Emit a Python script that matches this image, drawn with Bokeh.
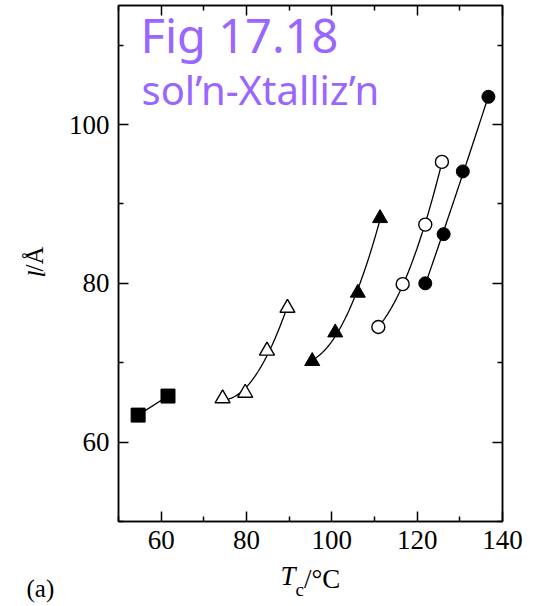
import numpy as np
from bokeh.plotting import figure
from bokeh.models import LinearAxis, FixedTicker, Label
from bokeh.embed import file_html
from bokeh.resources import INLINE

# ---- data ----
sq_x = [54.6, 61.6]
sq_y = [63.4, 65.8]
ot_x = [74.4, 79.7, 84.8, 89.6]          # open triangles
ot_y = [65.5, 66.2, 71.5, 76.9]
ft_x = [95.4, 100.8, 106.1, 111.3]       # filled triangles
ft_y = [70.2, 73.8, 78.8, 88.2]
oc_x = [110.9, 116.6, 121.9, 125.8]      # open circles
oc_y = [74.5, 79.9, 87.4, 95.3]
fc_x = [121.9, 126.2, 130.7, 136.7]      # filled circles
fc_y = [80.0, 86.2, 94.1, 103.5]

x_major = [60, 80, 100, 120, 140]
x_minor = [50, 70, 90, 110, 130]
y_major = [60, 80, 100]
y_minor = [50, 70, 90, 110]

XR = (50, 140)
YR = (50, 115)
W, H = 537, 606
ML, MR, MT, MB = 118, 35, 5, 85

p = figure(width=W, height=H, x_range=XR, y_range=YR, title=None,
           output_backend="svg", toolbar_location=None,
           min_border_left=ML, min_border_right=MR,
           min_border_top=MT, min_border_bottom=MB,
           background_fill_color="white", border_fill_color="white")
p.grid.visible = False
p.outline_line_color = "black"
p.outline_line_width = 1.5

# pixel -> data helpers for text placement
fw = W - ML - MR
fh = H - MT - MB
def dx(px):
    return XR[0] + (px - ML) / fw * (XR[1] - XR[0])
def dy(py):
    return YR[0] + (H - MB - py) / fh * (YR[1] - YR[0])

serif = "Liberation Serif"

def style(ax, labels, fs="27px"):
    ax.axis_line_width = 1.5
    ax.major_tick_in = 10
    ax.major_tick_out = 0
    ax.minor_tick_in = 5
    ax.minor_tick_out = 0
    ax.major_tick_line_width = 1.5
    ax.minor_tick_line_width = 1.5
    ax.major_label_text_font = serif
    ax.major_label_text_color = "black"
    if labels:
        ax.major_label_text_font_size = fs
        ax.major_label_standoff = 9
    else:
        ax.major_label_text_font_size = "1px"
        ax.major_label_standoff = 0

xb = p.xaxis[0]
xb.ticker = FixedTicker(ticks=x_major, minor_ticks=x_minor)
style(xb, True)
yl = p.yaxis[0]
yl.ticker = FixedTicker(ticks=y_major, minor_ticks=y_minor)
style(yl, True)

xt = LinearAxis(ticker=FixedTicker(ticks=x_major, minor_ticks=x_minor),
                major_label_overrides={t: "" for t in x_major})
style(xt, False)
p.add_layout(xt, "above")
yr = LinearAxis(ticker=FixedTicker(ticks=y_major, minor_ticks=y_minor),
                major_label_overrides={t: "" for t in y_major})
style(yr, False)
p.add_layout(yr, "right")

# axis-title pieces drawn as tick labels of bare extra axes (so they sit outside the frame)
def text_axis(side, ticks, texts, fs, standoff, italic=False, vertical=False):
    ax = LinearAxis(ticker=FixedTicker(ticks=ticks, minor_ticks=[]),
                    major_label_overrides=dict(zip(ticks, texts)))
    ax.axis_line_color = None
    ax.major_tick_line_color = None
    ax.minor_tick_line_color = None
    ax.major_tick_in = 0
    ax.major_tick_out = 0
    ax.minor_tick_in = 0
    ax.minor_tick_out = 0
    ax.major_label_text_font = serif
    ax.major_label_text_font_size = fs
    ax.major_label_text_color = "black"
    ax.major_label_standoff = standoff
    if italic:
        ax.major_label_text_font_style = "italic"
    if vertical:
        ax.major_label_orientation = "vertical"
    p.add_layout(ax, side)
    return ax

nb = "\u00a0"
# x title: T (italic), c (subscript), /°C ; then the panel tag (a)
text_axis("below", [dx(287.5)], ["T"], "27px", 9, italic=True)
text_axis("below", [dx(321.6)], ["/\u00b0C"], "27px", -30)
text_axis("below", [dx(299.2)], ["c"], "19px", -18)
text_axis("below", [XR[0]], ["(a)" + nb * 25], "25px", -28)
# y title: l (italic) / Å
text_axis("left", [dy(273.5)], ["l"], "25px", 16, italic=True, vertical=True)
text_axis("left", [dy(258.5)], ["/\u00c5"], "25px", -28, vertical=True)

# ---- curves (smooth fits through each series) ----
p.line(sq_x, sq_y, line_color="black", line_width=1.3)
for xs, ys in [(ot_x, ot_y), (ft_x, ft_y), (oc_x, oc_y), (fc_x, fc_y)]:
    c = np.polyfit(xs, ys, 2)
    xx = np.linspace(min(xs), max(xs), 60)
    p.line(xx, np.polyval(c, xx), line_color="black", line_width=1.3)

# ---- markers ----
p.scatter(sq_x, sq_y, marker="square", size=14, fill_color="black", line_color="black")
p.scatter(ot_x, ot_y, marker="triangle", size=15, fill_color="white", line_color="black", line_width=1.4)
p.scatter(ft_x, ft_y, marker="triangle", size=15, fill_color="black", line_color="black")
p.scatter(oc_x, oc_y, marker="circle", size=13, fill_color="white", line_color="black", line_width=1.4)
p.scatter(fc_x, fc_y, marker="circle", size=13, fill_color="black", line_color="black")

# ---- title text ----
purple = "#9966ff"
p.add_layout(Label(x=dx(140), y=dy(34), text="Fig 17.18", text_font="Noto Sans",
                   text_font_size="47px", text_color=purple, text_align="left",
                   text_baseline="alphabetic"))
p.add_layout(Label(x=dx(141), y=dy(89), text="sol\u2019n-Xtalliz\u2019n", text_font="Noto Sans",
                   text_font_size="40px", text_color=purple, text_align="left",
                   text_baseline="alphabetic"))

open("out.html", "w").write(file_html(p, INLINE))
